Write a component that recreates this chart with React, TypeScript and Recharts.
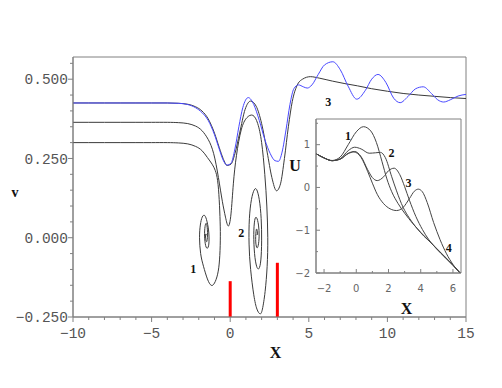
import React from 'react';
import { LineChart, Line, XAxis, YAxis, ReferenceLine, ReferenceArea, ReferenceDot, Label } from 'recharts';

// main panel: phase trajectories v(X)
const orbit3: [number, number][] = [
  [-10, 0.425], [-9, 0.425], [-8, 0.425], [-7, 0.425], [-6, 0.425], [-5, 0.425], [-4, 0.425],
  [-3.3, 0.424], [-2.7, 0.421], [-2.2, 0.413], [-1.8, 0.4], [-1.4, 0.375], [-1.0, 0.33],
  [-0.7, 0.285], [-0.45, 0.25], [-0.2, 0.228], [0.05, 0.232], [0.3, 0.265], [0.6, 0.33],
  [0.95, 0.405], [1.3, 0.431], [1.65, 0.415], [2.0, 0.36], [2.35, 0.27], [2.65, 0.19],
  [2.95, 0.148], [3.2, 0.17], [3.45, 0.25], [3.7, 0.35], [3.95, 0.43], [4.25, 0.48],
  [4.6, 0.5], [5.1, 0.508], [5.7, 0.503], [6.5, 0.494], [7.3, 0.486], [8.1, 0.479],
  [9.0, 0.47], [10.0, 0.462], [11.0, 0.455], [12.0, 0.45], [13.0, 0.446], [14.0, 0.442], [15.0, 0.439],
];

const blueWave: [number, number][] = [
  [-10, 0.425], [-9, 0.425], [-8, 0.425], [-7, 0.425], [-6, 0.425], [-5, 0.425], [-4, 0.425],
  [-3.3, 0.424], [-2.7, 0.42], [-2.2, 0.41], [-1.8, 0.395], [-1.4, 0.37], [-1.0, 0.325],
  [-0.7, 0.28], [-0.45, 0.245], [-0.2, 0.229], [0.05, 0.235], [0.3, 0.28], [0.55, 0.35],
  [0.8, 0.41], [1.15, 0.442], [1.5, 0.42], [1.85, 0.37], [2.2, 0.31], [2.55, 0.265],
  [2.85, 0.243], [3.07, 0.241], [3.3, 0.27], [3.55, 0.34], [3.8, 0.42], [4.05, 0.47],
  [4.35, 0.482], [4.65, 0.476], [4.9, 0.472], [5.2, 0.482], [5.6, 0.515], [6.0, 0.545],
  [6.53, 0.555], [7.0, 0.53], [7.5, 0.478], [8.05, 0.437], [8.6, 0.465], [9.0, 0.5],
  [9.4, 0.515], [9.9, 0.49], [10.4, 0.44], [10.81, 0.426], [11.3, 0.445], [11.8, 0.47],
  [12.28, 0.476], [12.8, 0.455], [13.2, 0.435], [13.58, 0.428], [14.0, 0.435], [14.5, 0.447], [15.0, 0.452],
];

const orbit2: [number, number][] = [
  [-10, 0.364], [-9, 0.364], [-8, 0.364], [-7, 0.364], [-6, 0.364], [-5, 0.364], [-4, 0.364],
  [-3.3, 0.363], [-2.7, 0.36], [-2.2, 0.352], [-1.8, 0.338], [-1.4, 0.31], [-1.05, 0.265],
  [-0.75, 0.19], [-0.5, 0.115], [-0.3, 0.065], [-0.12, 0.037], [0.05, 0.075], [0.2, 0.17],
  [0.4, 0.26], [0.7, 0.34], [1.05, 0.378], [1.44, 0.386], [1.75, 0.36], [2.0, 0.3],
  [2.2, 0.2], [2.33, 0.1], [2.39, 0.0], [2.35, -0.09], [2.22, -0.17], [2.05, -0.225],
  [1.9, -0.24], [1.7, -0.225], [1.5, -0.18], [1.3, -0.1], [1.2, -0.02], [1.22, 0.06],
  [1.35, 0.12], [1.52, 0.15], [1.68, 0.152], [1.85, 0.12], [1.97, 0.06], [2.0, -0.01],
  [1.95, -0.07], [1.83, -0.097], [1.68, -0.09], [1.55, -0.05], [1.5, 0.01], [1.56, 0.055],
  [1.68, 0.063], [1.8, 0.04], [1.84, 0.005], [1.78, -0.025], [1.68, -0.03], [1.62, -0.005],
  [1.66, 0.025], [1.72, 0.022], [1.73, 0.01], [1.7, 0.012],
];

const orbit1: [number, number][] = [
  [-10, 0.3], [-9, 0.3], [-8, 0.3], [-7, 0.3], [-6, 0.3], [-5, 0.3], [-4, 0.3],
  [-3.3, 0.299], [-2.7, 0.296], [-2.2, 0.288], [-1.8, 0.275], [-1.45, 0.253], [-1.15, 0.232],
  [-0.95, 0.212], [-0.8, 0.18], [-0.7, 0.12], [-0.64, 0.05], [-0.63, -0.01], [-0.68, -0.07],
  [-0.8, -0.115], [-1.0, -0.143], [-1.21, -0.15], [-1.45, -0.13], [-1.7, -0.09], [-1.88, -0.05],
  [-1.95, 0.0], [-1.9, 0.04], [-1.78, 0.065], [-1.62, 0.07], [-1.47, 0.05], [-1.36, 0.015],
  [-1.36, -0.02], [-1.45, -0.033], [-1.56, -0.025], [-1.63, 0.005], [-1.6, 0.035], [-1.52, 0.045],
  [-1.45, 0.025], [-1.46, -0.005], [-1.52, -0.012], [-1.57, 0.002], [-1.55, 0.012], [-1.52, 0.008],
];

// red markers on the X axis
const redBarX = [0, 3];
const redBarTop = [-0.137, -0.079];

const mainXTicks = [-10, -9, -8, -7, -6, -5, -4, -3, -2, -1, 0, 1, 2, 3, 4, 5, 6, 7, 8, 9, 10, 11, 12, 13, 14, 15];
const mainYTicks = [-0.25, -0.2, -0.15, -0.1, -0.05, 0, 0.05, 0.1, 0.15, 0.2, 0.25, 0.3, 0.35, 0.4, 0.45, 0.5, 0.55];

const mainNotes = [
  { text: '1', x: -2.35, y: -0.098 },
  { text: '2', x: 0.7, y: 0.015 },
  { text: '3', x: 6.23, y: 0.43 },
  { text: 'U', x: 4.13, y: 0.228 },
];

// inset: potential U(X) for cases 1..4
const potential1: [number, number][] = [
  [-2.5, 0.79], [-2, 0.69], [-1.5, 0.63], [-1, 0.71], [-0.5, 1.0], [0, 1.3], [0.45, 1.42],
  [0.9, 1.32], [1.25, 1.05], [1.6, 0.6], [1.9, 0.2], [2.2, -0.1], [2.6, -0.38], [3, -0.6],
  [3.5, -0.84], [4, -1.05], [4.5, -1.24], [5, -1.43], [5.5, -1.62], [6, -1.81], [6.5, -2.02],
];
const potential2: [number, number][] = [
  [-2.5, 0.79], [-2, 0.69], [-1.5, 0.625], [-1, 0.67], [-0.5, 0.86], [-0.1, 0.94], [0.3, 0.9],
  [0.8, 0.8], [1.2, 0.81], [1.5, 0.82], [1.8, 0.7], [2.2, 0.25], [2.5, -0.08], [2.9, -0.46],
  [3.3, -0.72], [3.8, -0.97], [4.2, -1.14], [4.6, -1.28], [5, -1.44], [5.5, -1.63], [6, -1.82], [6.5, -2.02],
];
const potential3: [number, number][] = [
  [-2.5, 0.79], [-2, 0.69], [-1.5, 0.625], [-1, 0.66], [-0.5, 0.8], [-0.1, 0.84], [0.3, 0.72],
  [0.7, 0.42], [1.0, 0.23], [1.3, 0.16], [1.7, 0.25], [2.0, 0.39], [2.35, 0.45], [2.7, 0.3],
  [3.0, 0.02], [3.3, -0.3], [3.7, -0.68], [4.1, -0.98], [4.5, -1.22], [5, -1.44], [5.5, -1.63],
  [6, -1.82], [6.5, -2.02],
];
const potential4: [number, number][] = [
  [-2.5, 0.79], [-2, 0.69], [-1.5, 0.625], [-1, 0.66], [-0.5, 0.79], [-0.15, 0.83], [0.3, 0.7],
  [0.7, 0.38], [1.0, 0.1], [1.3, -0.16], [1.7, -0.38], [2.1, -0.5], [2.5, -0.54], [2.9, -0.47],
  [3.3, -0.26], [3.6, -0.09], [3.85, -0.04], [4.1, -0.1], [4.4, -0.35], [4.8, -0.82], [5.2, -1.22],
  [5.6, -1.55], [6.0, -1.8], [6.5, -2.03],
];

const insetXTicks = [-2, -1, 0, 1, 2, 3, 4, 5, 6];
const insetYTicks = [-2, -1.5, -1, -0.5, 0, 0.5, 1, 1.5];

const insetNotes = [
  { text: '1', x: -0.52, y: 1.21 },
  { text: '2', x: 2.18, y: 0.8 },
  { text: '3', x: 3.24, y: 0.11 },
  { text: '4', x: 5.74, y: -1.4 },
];

const MONO = '"Liberation Mono", "DejaVu Sans Mono", monospace';
const SERIF = '"Liberation Serif", "DejaVu Serif", serif';
const SANS = '"DejaVu Sans", "Liberation Sans", sans-serif';
const AXIS = '#808080';
const INK = '#3a3a3a';

const rows = (pts: [number, number][]) => pts.map(([x, y]) => ({ x, y }));
const minus = (s: string) => s.replace('-', '\u2212');

const MainYTick = (props: any) => {
  const { x, y, payload } = props;
  const v = payload.value;
  const major = Math.abs(v * 4 - Math.round(v * 4)) < 1e-6;
  return (
    <g>
      <line x1={x} x2={x - (major ? 5 : 3)} y1={y} y2={y} stroke={AXIS} />
      {major && (
        <text x={x - 5} y={y} dy="0.36em" textAnchor="end" fontFamily={MONO} fontSize={14.5} fill="#555">
          {minus(v.toFixed(3))}
        </text>
      )}
    </g>
  );
};

const MainXTick = (props: any) => {
  const { x, y, payload } = props;
  const v = payload.value;
  const major = v % 5 === 0;
  return (
    <g>
      <line x1={x} x2={x} y1={y} y2={y + (major ? 5 : 3)} stroke={AXIS} />
      {major && (
        <text x={x} y={y + 16} dy="0.36em" textAnchor="middle" fontFamily={MONO} fontSize={14.5} fill="#555">
          {minus(String(v))}
        </text>
      )}
    </g>
  );
};

const InsetYTick = (props: any) => {
  const { x, y, payload } = props;
  const v = payload.value;
  const major = Number.isInteger(v);
  return (
    <g>
      <line x1={x} x2={x + (major ? 4 : 2)} y1={y} y2={y} stroke={AXIS} />
      {major && (
        <text x={x - 6} y={y} dy="0.36em" textAnchor="end" fontFamily={SANS} fontSize={10} fill="#666">
          {minus(String(v))}
        </text>
      )}
    </g>
  );
};

const InsetXTick = (props: any) => {
  const { x, y, payload } = props;
  const v = payload.value;
  const major = v % 2 === 0;
  return (
    <g>
      <line x1={x} x2={x} y1={y} y2={y - (major ? 4 : 2)} stroke={AXIS} />
      {major && (
        <text x={x} y={y + 15} dy="0.36em" textAnchor="middle" fontFamily={SANS} fontSize={10} fill="#666">
          {minus(String(v))}
        </text>
      )}
    </g>
  );
};

const noteLabel = (text: string, size: number) => ({
  value: text,
  position: 'center' as const,
  fontFamily: SERIF,
  fontWeight: 'bold',
  fontSize: size,
  fill: '#111',
});

export default function App() {
  return (
    <div style={{ position: 'absolute', left: 0, top: 0, width: 502, height: 388, background: '#fff' }}>
      <LineChart width={502} height={388} margin={{ top: 57, right: 36, bottom: 41, left: 8 }}>
        <XAxis
          dataKey="x"
          type="number"
          domain={[-10, 15]}
          ticks={mainXTicks}
          interval={0}
          allowDataOverflow
          height={30}
          tickSize={0}
          tickMargin={0}
          tickLine={false}
          axisLine={{ stroke: AXIS }}
          tick={<MainXTick />}
        >
          <Label
            content={({ viewBox }: any) => (
              <text x={viewBox.x + viewBox.width / 2 + 6} y={viewBox.y + 41} textAnchor="middle" fontFamily={SERIF} fontWeight="bold" fontSize={16} fill="#111">
                X
              </text>
            )}
          />
        </XAxis>
        <YAxis
          dataKey="y"
          type="number"
          domain={[-0.25, 0.57]}
          ticks={mainYTicks}
          interval={0}
          allowDataOverflow
          width={65}
          tickSize={0}
          tickMargin={0}
          tickLine={false}
          axisLine={{ stroke: AXIS }}
          tick={<MainYTick />}
        >
          <Label
            content={({ viewBox }: any) => (
              <text x={viewBox.x + 7} y={viewBox.y + viewBox.height / 2 + 10} textAnchor="middle" fontFamily={SERIF} fontWeight="bold" fontSize={14} fill="#111">
                v
              </text>
            )}
          />
        </YAxis>
        <ReferenceArea x1={-10} x2={15} y1={-0.25} y2={0.57} fill="none" stroke={AXIS} />
        {redBarX.map((bx, i) => (
          <ReferenceLine
            key={`red-${i}`}
            segment={[{ x: bx, y: -0.25 }, { x: bx, y: redBarTop[i] }]}
            stroke="#ff0000"
            strokeWidth={3}
          />
        ))}
        <Line data={rows(orbit1)} dataKey="y" type="natural" stroke={INK} strokeWidth={1} dot={false} activeDot={false} isAnimationActive={false} />
        <Line data={rows(orbit2)} dataKey="y" type="natural" stroke={INK} strokeWidth={1} dot={false} activeDot={false} isAnimationActive={false} />
        <Line data={rows(orbit3)} dataKey="y" type="monotone" stroke={INK} strokeWidth={1} dot={false} activeDot={false} isAnimationActive={false} />
        <Line data={rows(blueWave)} dataKey="y" type="monotone" stroke="#4848ff" strokeWidth={1} dot={false} activeDot={false} isAnimationActive={false} />
        {mainNotes.map((n) => (
          <ReferenceDot key={`mn-${n.text}`} x={n.x} y={n.y} r={0} fill="none" stroke="none" label={noteLabel(n.text, n.text === 'U' ? 16 : 12)} />
        ))}
      </LineChart>

      <div style={{ position: 'absolute', left: 290, top: 110 }}>
        <LineChart width={180} height={220} margin={{ top: 9, right: 9, bottom: 37, left: 6 }}>
          <XAxis
            dataKey="x"
            type="number"
            domain={[-2.5, 6.5]}
            ticks={insetXTicks}
            interval={0}
            allowDataOverflow
            height={20}
            tickSize={0}
            tickMargin={0}
            tickLine={false}
            axisLine={{ stroke: AXIS }}
            tick={<InsetXTick />}
          >
            <Label
              content={({ viewBox }: any) => (
                <text x={viewBox.x + viewBox.width / 2 + 18} y={viewBox.y + 41} textAnchor="middle" fontFamily={SERIF} fontWeight="bold" fontSize={16} fill="#111">
                  X
                </text>
              )}
            />
          </XAxis>
          <YAxis
            dataKey="y"
            type="number"
            domain={[-2, 1.6]}
            ticks={insetYTicks}
            interval={0}
            allowDataOverflow
            width={20}
            tickSize={0}
            tickMargin={0}
            tickLine={false}
            axisLine={{ stroke: AXIS }}
            tick={<InsetYTick />}
          />
          <ReferenceArea x1={-2.5} x2={6.5} y1={-2} y2={1.6} fill="none" stroke={AXIS} />
          {[potential1, potential2, potential3, potential4].map((p, i) => (
            <Line key={`pot-${i}`} data={rows(p)} dataKey="y" type="monotone" stroke="#444" strokeWidth={1} dot={false} activeDot={false} isAnimationActive={false} />
          ))}
          {insetNotes.map((n) => (
            <ReferenceDot key={`in-${n.text}`} x={n.x} y={n.y} r={0} fill="none" stroke="none" label={noteLabel(n.text, 12)} />
          ))}
        </LineChart>
      </div>
    </div>
  );
}
